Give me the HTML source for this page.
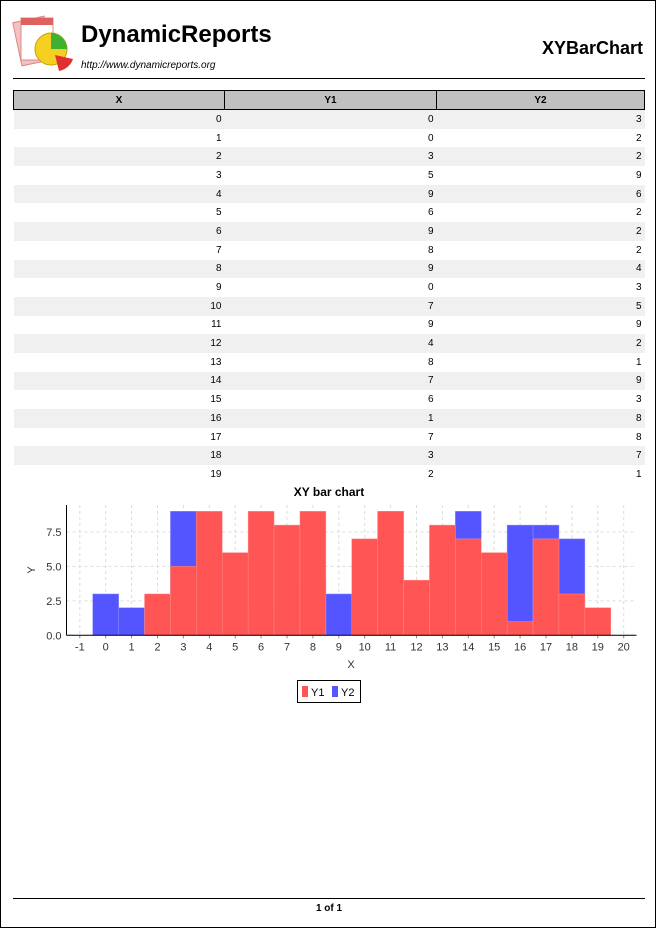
<!DOCTYPE html>
<html><head><meta charset="utf-8"><style>
body{margin:0;background:#fff;font-family:"Liberation Sans",sans-serif;}
#page{position:relative;width:654px;height:926px;border:1px solid #000;overflow:hidden;}
.abs{position:absolute;}
table{border-collapse:collapse;position:absolute;left:12px;top:89px;width:632px;font-size:10px;}
th{background:#c0c0c0;border:1px solid #000;height:18px;padding:0;font-weight:bold;}
td{text-align:right;padding:0 3px 0 0;height:18.7px;}
tr.odd td{background:#f0f0f0;}
</style></head><body>
<div id="page">
<svg class="abs" style="left:10px;top:14px" width="68" height="60">
<rect x="6" y="4" width="32" height="44" fill="#f4c0c0" stroke="#d88" transform="rotate(-12 22 26)"/>
<rect x="10" y="3" width="32" height="42" fill="#fff" stroke="#d88"/>
<rect x="10" y="3" width="32" height="7" fill="#e06060"/>
<circle cx="40" cy="34" r="16" fill="#f5d020" stroke="#c8a000"/>
<path d="M40 34 L40 18 A16 16 0 0 1 56 34 Z" fill="#40b030"/>
<path d="M44 40 L62 44 A18 18 0 0 1 48 56 Z" fill="#e03030"/>
</svg>
<div class="abs" style="left:80px;top:20px;font-size:24px;font-weight:bold">DynamicReports</div>
<div class="abs" style="left:80px;top:59px;font-size:10px;font-style:italic">http://www.dynamicreports.org</div>
<div class="abs" style="right:12px;top:37px;font-size:18px;font-weight:bold">XYBarChart</div>
<div class="abs" style="left:12px;top:77px;width:632px;height:1px;background:#000"></div>
<table>
<thead><tr><th style="width:210px">X</th><th style="width:211px">Y1</th><th>Y2</th></tr></thead>
<tbody id="tbody"></tbody></table>
<div class="abs" style="left:0;top:484px;width:656px;text-align:center;font-size:12px;font-weight:bold">XY bar chart</div>
<svg class="abs" style="left:0;top:0" width="656" height="928" id="chart"></svg>
<div class="abs" style="left:12px;top:897px;width:632px;height:1px;background:#000"></div>
<div class="abs" style="left:0;top:902px;width:656px;text-align:center;font-size:10px;font-weight:bold">1 of 1</div>
</div>
<script>
const xs=[0,1,2,3,4,5,6,7,8,9,10,11,12,13,14,15,16,17,18,19];
const y1=[0,0,3,5,9,6,9,8,9,0,7,9,4,8,7,6,1,7,3,2];
const y2=[3,2,2,9,6,2,2,2,4,3,5,9,2,1,9,3,8,8,7,1];
const xTicks=[-1,0,1,2,3,4,5,6,7,8,9,10,11,12,13,14,15,16,17,18,19,20];
const yTicks=[0,2.5,5,7.5];
const tb=document.getElementById('tbody');
xs.forEach((x,i)=>{const tr=document.createElement('tr');


if(i%2==0)tr.className='odd';
tr.innerHTML='<td>'+x+'</td><td>'+y1[i]+'</td><td>'+y2[i]+'</td>';tb.appendChild(tr);});
const NS='http://www.w3.org/2000/svg',svg=document.getElementById('chart');
const L=65.5,R=635.5,T=504,B=634.3;
const sx=v=>78.8+(v+1)*25.9;
const sy=v=>B-v*(B-531)/7.5;
function el(t,a,txt){const e=document.createElementNS(NS,t);for(const k in a)e.setAttribute(k,a[k]);if(txt!=null)e.textContent=txt;svg.appendChild(e);return e;}
xTicks.forEach(t=>{const g=el('line',{x1:sx(t),x2:sx(t),y1:T,y2:B,stroke:'#ddd','stroke-dasharray':'3,3'});

const l=el('text',{x:sx(t),y:B+15,'font-size':11,'text-anchor':'middle',fill:'#333'},t);

el('line',{x1:sx(t),x2:sx(t),y1:B,y2:B+3,stroke:'#888'});});
yTicks.forEach(t=>{const g=el('line',{x1:L,x2:R,y1:sy(t),y2:sy(t),stroke:'#ddd','stroke-dasharray':'3,3'});

const l=el('text',{x:L-5,y:sy(t)+4,'font-size':11,'text-anchor':'end',fill:'#333'},t.toFixed(1));
});
xs.forEach((x,i)=>{if(y2[i]>0){const r=el('rect',{x:sx(x-0.5),y:sy(y2[i]),width:25.9,height:B-sy(y2[i]),fill:'#5555ff',stroke:'#8888ff','stroke-width':0.5});
}});
xs.forEach((x,i)=>{if(y1[i]>0){const r=el('rect',{x:sx(x-0.5),y:sy(y1[i]),width:25.9,height:B-sy(y1[i]),fill:'#ff5555',stroke:'#ff8888','stroke-width':0.5});
}});
el('line',{x1:L,x2:L,y1:T,y2:B,stroke:'#000'});
el('line',{x1:L,x2:R,y1:B,y2:B,stroke:'#000'});
const xt=el('text',{x:350,y:667,'font-size':11,'text-anchor':'middle',fill:'#333'},'X');

const yt=el('text',{x:34,y:569,'font-size':11,'text-anchor':'middle',fill:'#333',transform:'rotate(-90 34 569)'},'Y');

const lg=el('rect',{x:296.5,y:679.5,width:63,height:22,fill:'#fff',stroke:'#000'});

el('rect',{x:301,y:685,width:6,height:11,fill:'#ff5555'});
const l1=el('text',{x:310,y:695,'font-size':11},'Y1');

el('rect',{x:331,y:685,width:6,height:11,fill:'#5555ff'});
const l2=el('text',{x:340,y:695,'font-size':11},'Y2');

</script>
</body></html>
